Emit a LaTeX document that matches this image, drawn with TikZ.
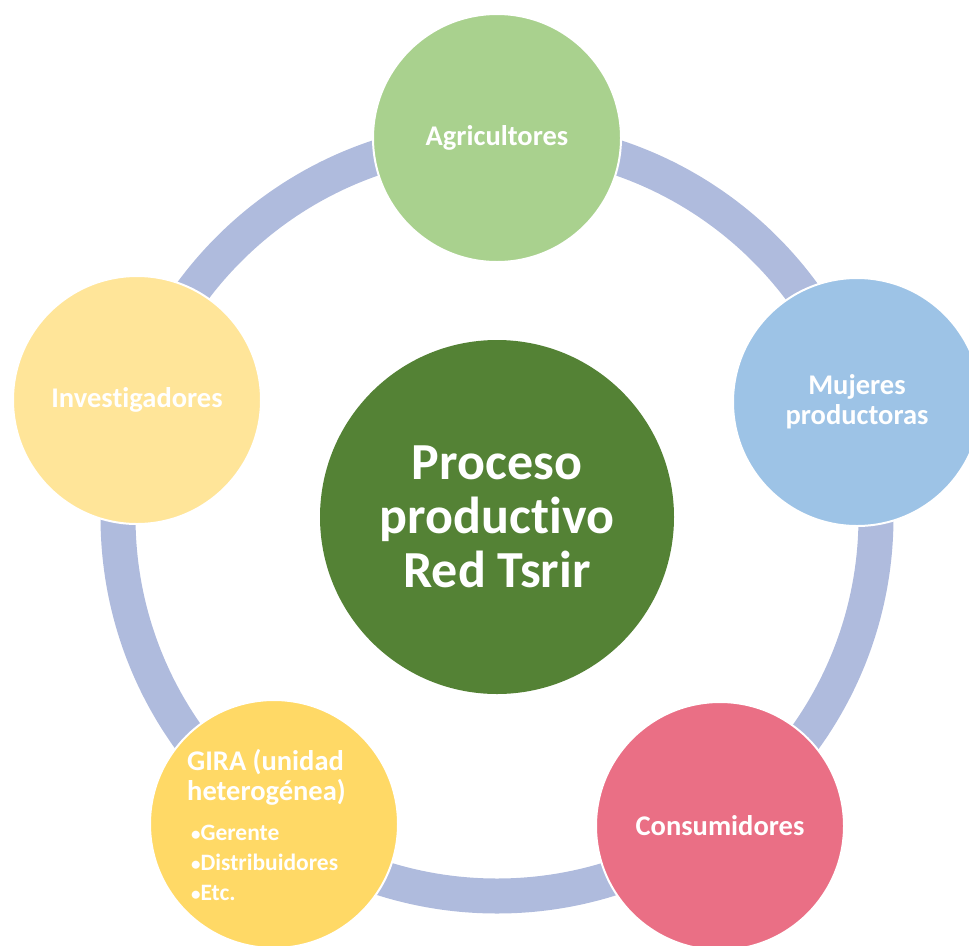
\documentclass[tikz,border=0pt]{standalone}
\usepackage{fontspec}
\setmainfont{Carlito}[RawFeature={-liga;-clig}]
\definecolor{ringc}{HTML}{AFBBDD}
\definecolor{cgreen}{HTML}{548235}
\definecolor{cagri}{HTML}{A9D18E}
\definecolor{cmuj}{HTML}{9DC3E6}
\definecolor{ccons}{HTML}{EA6F85}
\definecolor{cgira}{HTML}{FFD966}
\definecolor{cinv}{HTML}{FFE599}
\begin{document}
\begin{tikzpicture}[x=1pt,y=-1pt,
  outer/.style={circle,draw=white,line width=2pt,minimum size=248pt,inner sep=0pt,text=white,font=\bfseries\fontsize{28.5}{30}\selectfont,align=center},
  centre/.style={circle,fill=cgreen,minimum size=354pt,inner sep=0pt,text=white,font=\bfseries\fontsize{52}{54}\selectfont,align=center}]
\useasboundingbox (0,0) rectangle (969,945);
\coordinate (c) at (497,517);
\draw[ringc,line width=35pt] (c) circle[radius=379];
\node[centre] (mid) at (c) {Proceso\\productivo\\Red Tsrir};
\node[outer,fill=cagri] (agri) at (497,138) {Agricultores};
\node[outer,fill=cmuj] (muj) at (857,402) {Mujeres\\productoras};
\node[outer,fill=ccons] (cons) at (720,826) {Consumidores};
\node[outer,fill=cgira] (gira) at (274,824) {};
\node[outer,fill=cinv] (inv) at (137,400) {Investigadores};
\node[anchor=north west,inner sep=0pt,text=white,align=left,font=\bfseries\fontsize{28.5}{30}\selectfont] (giratxt) at (187,749)
 {GIRA (unidad\\heterogénea)\\[10pt]
 {\fontsize{23.5}{32}\selectfont\,{\fontsize{19}{32}\selectfont•}Gerente}\\
 {\fontsize{23.5}{32}\selectfont\,{\fontsize{19}{32}\selectfont•}Distribuidores}\\
 {\fontsize{23.5}{32}\selectfont\,{\fontsize{19}{32}\selectfont•}Etc.}};
\end{tikzpicture}
\end{document}
